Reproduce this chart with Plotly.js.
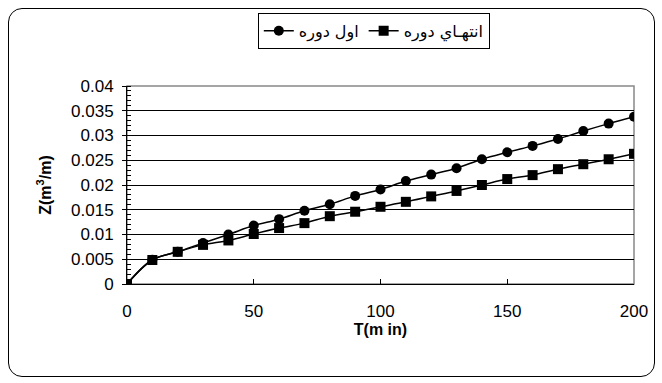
<!DOCTYPE html>
<html><head><meta charset="utf-8">
<script src="https://cdn.plot.ly/plotly-3.0.1.min.js"></script>
<style>
html,body{margin:0;padding:0;background:#fff;}
#frame{position:absolute;left:8px;top:8px;width:645px;height:367px;border:1.5px solid #000;border-radius:14px;}
#chart{position:absolute;left:0;top:0;width:662px;height:383px;}
</style></head>
<body>
<div id="frame"></div>
<div id="chart"></div>
<script>
const timeMin = [0,10,20,30,40,50,60,70,80,90,100,110,120,130,140,150,160,170,180,190,200];
const zStart = [0,0.0049,0.0065,0.0083,0.0100,0.0118,0.0131,0.0148,0.0161,0.0178,0.0191,0.0208,0.0221,0.0234,0.0252,0.0266,0.0279,0.0293,0.0309,0.0324,0.0338];
const zEnd = [0,0.00485,0.0065,0.0079,0.0088,0.0101,0.0113,0.0123,0.0137,0.0146,0.0156,0.0166,0.0177,0.0188,0.0200,0.0212,0.0220,0.0232,0.0242,0.0252,0.0263];
const nameStart = "اول دوره";
const nameEnd = "انتهـاي دوره";
const yTickVals = [0,0.005,0.01,0.015,0.02,0.025,0.03,0.035,0.04];
const yTickText = ["0","0.005","0.01","0.015","0.02","0.025","0.03","0.035","0.04"];
const xTickVals = [0,50,100,150,200];

const fam = "Liberation Sans, Arial, sans-serif";
const traces = [
  {x:timeMin, y:zStart, name:nameStart, mode:"lines+markers", type:"scatter",
   line:{color:"#000", width:1.5, shape:"spline", smoothing:1},
   marker:{symbol:"circle", size:10, color:"#000"}},
  {x:timeMin, y:zEnd, name:nameEnd, mode:"lines+markers", type:"scatter",
   line:{color:"#000", width:1.5, shape:"spline", smoothing:1},
   marker:{symbol:"square", size:10, color:"#000"}}
];
const layout = {
  width:662, height:383,
  margin:{l:127, r:28, t:86, b:99},
  paper_bgcolor:"rgba(0,0,0,0)", plot_bgcolor:"#fff",
  font:{family:fam, size:16, color:"#000"},
  showlegend:true,
  legend:{orientation:"h", x:0.258, xanchor:"left", y:1.369, yanchor:"top",
    bordercolor:"#000", borderwidth:1, bgcolor:"#fff",
    font:{family:"DejaVu Sans, Liberation Sans, sans-serif", size:16, color:"#000"},
    itemwidth:30, tracegroupgap:0},
  xaxis:{range:[0,200], tickvals:xTickVals, ticks:"inside", ticklen:5, tickcolor:"#000",
    showline:true, linecolor:"#000", linewidth:1, showgrid:false, zeroline:false,
    ticklabelstandoff:12,
    tickfont:{family:fam, size:17},
    title:{text:"<b>T(m in)</b>", font:{family:fam, size:16}, standoff:3}},
  yaxis:{range:[0,0.04], tickvals:yTickVals, ticktext:yTickText, ticks:"outside", ticklen:4, tickcolor:"#000",
    showline:true, linecolor:"#000", linewidth:1, showgrid:true, gridcolor:"#000", gridwidth:1, zeroline:false,
    ticklabelstandoff:5,
    minor:{dtick:0.001, ticks:"inside", ticklen:4, tickcolor:"#000", showgrid:false},
    tickfont:{family:fam, size:17},
    title:{text:"<b>Z(m<sup>3</sup>/m)</b>", font:{family:fam, size:16}, standoff:15}},
  shapes:[{type:"rect", xref:"paper", yref:"paper", x0:0, x1:1, y0:0, y1:1, line:{color:"#888", width:1.5}, layer:"below"}]
};
Plotly.newPlot("chart", traces, layout, {displayModeBar:false, staticPlot:true});
</script>
</body></html>
